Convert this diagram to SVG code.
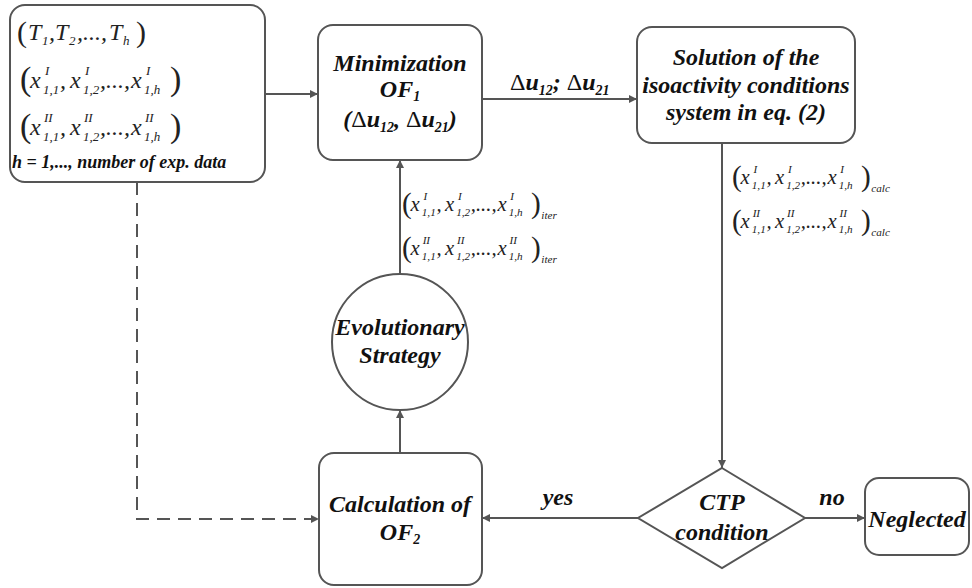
<svg xmlns="http://www.w3.org/2000/svg" width="972" height="588" viewBox="0 0 972 588">
<defs>
<marker id="arr" viewBox="0 0 10 10" markerUnits="userSpaceOnUse" markerWidth="9" markerHeight="8" refX="10" refY="5" orient="auto">
<path d="M0,0 L10,5 L0,10 z" fill="#555"/>
</marker>
<style>
.node{fill:#fff;stroke:#555;stroke-width:2}
.conn{fill:none;stroke:#555;stroke-width:2}
.dash{stroke-dasharray:13 8}
.lbl{font-family:"Liberation Serif",serif;font-weight:bold;font-style:italic;font-size:24px;fill:#111;text-anchor:middle}
.lbls{font-family:"Liberation Serif",serif;font-weight:bold;font-style:italic;font-size:24px;fill:#111}
.up{font-style:normal;font-weight:normal}
.sb{font-size:14px}
.mi{font-family:"Liberation Serif",serif;font-style:italic;font-size:24px;fill:#222}
.par{font-style:normal;font-size:34px}
.sc{font-size:13px}
.bi{font-family:"Liberation Serif",serif;font-style:italic;font-weight:bold;font-size:18px;fill:#111}
</style>
</defs>

<g id="connectors">
<line class="conn" x1="266" y1="94" x2="318" y2="94" marker-end="url(#arr)"/>
<line class="conn" x1="482" y1="99" x2="637" y2="99" marker-end="url(#arr)"/>
<line class="conn" x1="722" y1="143" x2="722" y2="468" marker-end="url(#arr)"/>
<line class="conn" x1="638" y1="518" x2="482" y2="518" marker-end="url(#arr)"/>
<line class="conn" x1="805" y1="518" x2="865" y2="518" marker-end="url(#arr)"/>
<line class="conn" x1="400" y1="453" x2="400" y2="410" marker-end="url(#arr)"/>
<line class="conn" x1="400" y1="274" x2="400" y2="160" marker-end="url(#arr)"/>
<polyline class="conn dash" points="137,182 137,519 319,519" marker-end="url(#arr)"/>
<text class="lbls" x="510" y="90"><tspan class="up">Δ</tspan>u<tspan class="sb" dy="5">12</tspan><tspan dy="-5">; </tspan><tspan class="up">Δ</tspan>u<tspan class="sb" dy="5">21</tspan></text>
<text class="lbl" x="558" y="505">yes</text>
<text class="lbl" x="832" y="505">no</text>
<!-- iter labels -->
<g transform="translate(402,211) scale(0.86)">
<text class="mi"><tspan class="par" x="0" y="2">(</tspan><tspan x="10" y="0">x</tspan><tspan class="sc" x="25" y="-13">I</tspan><tspan class="sc" x="23" y="6">1,1</tspan><tspan x="40" y="0">,</tspan><tspan x="50" y="0">x</tspan><tspan class="sc" x="65" y="-13">I</tspan><tspan class="sc" x="63" y="6">1,2</tspan><tspan x="80" y="0">,...,</tspan><tspan x="111" y="0">x</tspan><tspan class="sc" x="126" y="-13">I</tspan><tspan class="sc" x="124" y="6">1,h</tspan><tspan class="par" x="150" y="2">)</tspan><tspan class="sc" x="162" y="9">iter</tspan></text>
</g>
<g transform="translate(402,255) scale(0.86)">
<text class="mi"><tspan class="par" x="0" y="2">(</tspan><tspan x="10" y="0">x</tspan><tspan class="sc" x="24" y="-13">II</tspan><tspan class="sc" x="23" y="6">1,1</tspan><tspan x="40" y="0">,</tspan><tspan x="50" y="0">x</tspan><tspan class="sc" x="64" y="-13">II</tspan><tspan class="sc" x="63" y="6">1,2</tspan><tspan x="80" y="0">,...,</tspan><tspan x="111" y="0">x</tspan><tspan class="sc" x="125" y="-13">II</tspan><tspan class="sc" x="124" y="6">1,h</tspan><tspan class="par" x="150" y="2">)</tspan><tspan class="sc" x="162" y="9">iter</tspan></text>
</g>
<!-- calc labels -->
<g transform="translate(732,184) scale(0.86)">
<text class="mi"><tspan class="par" x="0" y="2">(</tspan><tspan x="10" y="0">x</tspan><tspan class="sc" x="25" y="-13">I</tspan><tspan class="sc" x="23" y="6">1,1</tspan><tspan x="40" y="0">,</tspan><tspan x="50" y="0">x</tspan><tspan class="sc" x="65" y="-13">I</tspan><tspan class="sc" x="63" y="6">1,2</tspan><tspan x="80" y="0">,...,</tspan><tspan x="111" y="0">x</tspan><tspan class="sc" x="126" y="-13">I</tspan><tspan class="sc" x="124" y="6">1,h</tspan><tspan class="par" x="150" y="2">)</tspan><tspan class="sc" x="162" y="9">calc</tspan></text>
</g>
<g transform="translate(732,228) scale(0.86)">
<text class="mi"><tspan class="par" x="0" y="2">(</tspan><tspan x="10" y="0">x</tspan><tspan class="sc" x="24" y="-13">II</tspan><tspan class="sc" x="23" y="6">1,1</tspan><tspan x="40" y="0">,</tspan><tspan x="50" y="0">x</tspan><tspan class="sc" x="64" y="-13">II</tspan><tspan class="sc" x="63" y="6">1,2</tspan><tspan x="80" y="0">,...,</tspan><tspan x="111" y="0">x</tspan><tspan class="sc" x="125" y="-13">II</tspan><tspan class="sc" x="124" y="6">1,h</tspan><tspan class="par" x="150" y="2">)</tspan><tspan class="sc" x="162" y="9">calc</tspan></text>
</g>
</g>

<g id="input">
<rect class="node" x="10" y="5" width="255" height="177" rx="15"/>
<text class="mi"><tspan class="par" style="font-size:30px" x="17" y="42">(</tspan><tspan x="28" y="40">T</tspan><tspan class="sc" x="42" y="45">1</tspan><tspan x="49" y="40">,</tspan><tspan x="55" y="40">T</tspan><tspan class="sc" x="69" y="45">2</tspan><tspan x="77" y="40">,...,</tspan><tspan x="109" y="40">T</tspan><tspan class="sc" x="123" y="45">h</tspan><tspan class="par" style="font-size:30px" x="136" y="42">)</tspan></text>
<g transform="translate(20,88)">
<text class="mi"><tspan class="par" x="0" y="2">(</tspan><tspan x="10" y="0">x</tspan><tspan class="sc" x="25" y="-13">I</tspan><tspan class="sc" x="23" y="6">1,1</tspan><tspan x="40" y="0">,</tspan><tspan x="50" y="0">x</tspan><tspan class="sc" x="65" y="-13">I</tspan><tspan class="sc" x="63" y="6">1,2</tspan><tspan x="80" y="0">,...,</tspan><tspan x="111" y="0">x</tspan><tspan class="sc" x="126" y="-13">I</tspan><tspan class="sc" x="124" y="6">1,h</tspan><tspan class="par" x="150" y="2">)</tspan></text>
</g>
<g transform="translate(20,135)">
<text class="mi"><tspan class="par" x="0" y="2">(</tspan><tspan x="10" y="0">x</tspan><tspan class="sc" x="24" y="-13">II</tspan><tspan class="sc" x="23" y="6">1,1</tspan><tspan x="40" y="0">,</tspan><tspan x="50" y="0">x</tspan><tspan class="sc" x="64" y="-13">II</tspan><tspan class="sc" x="63" y="6">1,2</tspan><tspan x="80" y="0">,...,</tspan><tspan x="111" y="0">x</tspan><tspan class="sc" x="125" y="-13">II</tspan><tspan class="sc" x="124" y="6">1,h</tspan><tspan class="par" x="150" y="2">)</tspan></text>
</g>
<text class="bi" x="12" y="168">h = 1,..., number of exp. data</text>
</g>

<g id="minimization">
<rect class="node" x="318" y="25" width="164" height="135" rx="15"/>
<text class="lbl" x="400" y="71">Minimization</text>
<text class="lbl" x="400" y="97">OF<tspan class="sb" dy="4">1</tspan></text>
<text class="lbl" x="400" y="127">(<tspan class="up">Δ</tspan>u<tspan class="sb" dy="5">12</tspan><tspan dy="-5">, </tspan><tspan class="up">Δ</tspan>u<tspan class="sb" dy="5">21</tspan><tspan dy="-5">)</tspan></text>
</g>

<g id="solution">
<rect class="node" x="637" y="27" width="218" height="116" rx="15"/>
<text class="lbl" x="746" y="65">Solution of the</text>
<text class="lbl" x="746" y="93">isoactivity conditions</text>
<text class="lbl" x="746" y="120">system in eq. (2)</text>
</g>

<g id="evolutionary">
<circle class="node" cx="400" cy="342" r="68"/>
<text class="lbl" x="400" y="335">Evolutionary</text>
<text class="lbl" x="400" y="363">Strategy</text>
</g>

<g id="calculation">
<rect class="node" x="319" y="453" width="163" height="132" rx="15"/>
<text class="lbl" x="400" y="512">Calculation of</text>
<text class="lbl" x="400" y="540">OF<tspan class="sb" dy="4">2</tspan></text>
</g>

<g id="ctp">
<polygon class="node" points="722,468 805,518 722,568 638,518"/>
<text class="lbl" x="722" y="510">CTP</text>
<text class="lbl" x="722" y="540">condition</text>
</g>

<g id="neglected">
<rect class="node" x="865" y="478" width="104" height="77" rx="14"/>
<text class="lbl" x="917" y="527">Neglected</text>
</g>
</svg>
